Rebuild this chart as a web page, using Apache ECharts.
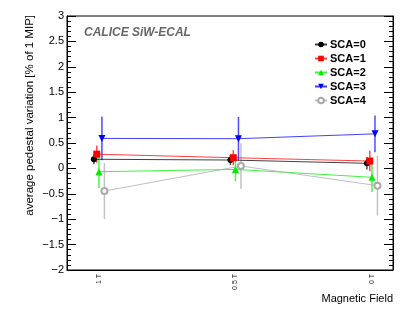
<!DOCTYPE html>
<html>
<head>
<meta charset="utf-8">
<script src="https://cdn.jsdelivr.net/npm/echarts@6/dist/echarts.min.js"></script>
<style>
  html, body { margin: 0; padding: 0; background: #fff; }
  #chart { width: 415px; height: 322px; }
</style>
</head>
<body>
<div id="chart"></div>
<script>
var myChart = echarts.init(document.getElementById("chart"));

// field settings along x (index 0, 1, 2)
var fieldLabels = ['1 T', '0.5 T', '0 T'];
var fieldIndex = [0, 1, 2];

// mean pedestal variation and errors per SCA
var sca0Mean = [0.18, 0.165, 0.10];
var sca0Err  = [0.10, 0.10, 0.12];
var sca1Mean = [0.28, 0.21, 0.145];
var sca1Err  = [0.17, 0.15, 0.20];
var sca2Mean = [-0.065, -0.02, -0.175];
var sca2Err  = [0.32, 0.23, 0.29];
var sca3Mean = [0.59, 0.585, 0.68];
var sca3Err  = [0.43, 0.43, 0.36];
var sca4Mean = [-0.445, 0.047, -0.34];
var sca4Err  = [0.55, 0.45, 0.59];

var scaNames = ['SCA=0', 'SCA=1', 'SCA=2', 'SCA=3', 'SCA=4'];

// small horizontal shift so points don't sit on top of each other
var shift = [-0.037, -0.016, 0, 0.022, 0.04];
var colors = ['#000000', '#ff0000', '#00ee00', '#0000ff', '#aaaaaa'];
var symbols = ['circle', 'rect', 'triangle', 'triangle', 'emptyCircle'];
var symbolRot = [0, 0, 0, 180, 0];
var symbolSizes = [6, 7, 7, 7, 6];

var means = [sca0Mean, sca1Mean, sca2Mean, sca3Mean, sca4Mean];
var errs = [sca0Err, sca1Err, sca2Err, sca3Err, sca4Err];

var series = [];
for (var s = 0; s < 5; s++) {
    var pts = [];
    var bars = [];
    for (var i = 0; i < fieldIndex.length; i++) {
        var x = fieldIndex[i] + shift[s];
        pts.push([x, means[s][i]]);
        bars.push([x, means[s][i] - errs[s][i], means[s][i] + errs[s][i]]);
    }
    series.push({
        name: scaNames[s],
        type: 'line',
        z: 3,
        data: pts,
        symbol: symbols[s],
        symbolRotate: symbolRot[s],
        symbolSize: symbolSizes[s],
        showAllSymbol: true,
        itemStyle: { color: colors[s], borderColor: colors[s], borderWidth: s == 4 ? 1 : 0 },
        lineStyle: { color: colors[s], width: 1, opacity: 0.75 },
        emphasis: { disabled: true },
        animation: false
    });
    series.push({
        name: scaNames[s],
        type: 'custom',
        z: 2,
        data: bars,
        itemStyle: { color: colors[s] },
        renderItem: function (params, api) {
            var lo = api.coord([api.value(0), api.value(1)]);
            var hi = api.coord([api.value(0), api.value(2)]);
            return {
                type: 'line',
                shape: { x1: lo[0], y1: lo[1], x2: hi[0], y2: hi[1] },
                style: { stroke: api.visual('color'), lineWidth: 1.5, opacity: 0.7 }
            };
        },
        animation: false
    });
}

var fmt = function (v) {
    return String(v).replace('-', '\u2212');
};

var option = {
    animation: false,
    textStyle: { fontFamily: 'Liberation Sans' },
    grid: {
        left: 67, right: 22, top: 16, bottom: 52,
        show: true, borderColor: '#000', borderWidth: 1
    },
    legend: {
        orient: 'vertical',
        left: 309,
        top: 34,
        itemWidth: 12,
        itemHeight: 7,
        itemGap: 3,
        data: scaNames,
        textStyle: { fontFamily: 'Liberation Sans', fontWeight: 'bold', fontSize: 11, color: '#000', padding: [0, 0, 0, -2] }
    },
    xAxis: {
        type: 'value',
        min: -0.234,
        max: 2.154,
        splitLine: { show: false },
        axisLine: { onZero: false, lineStyle: { color: '#000' } },
        axisTick: { show: false },
        axisLabel: {
            customValues: fieldIndex,
            rotate: 90,
            fontSize: 7,
            color: '#222',
            margin: 4,
            formatter: function (v) { return fieldLabels[Math.round(v)]; }
        }
    },
    yAxis: [{
        type: 'value',
        min: -2,
        max: 3,
        interval: 0.5,
        splitLine: { show: false },
        axisLine: { show: true, onZero: false, lineStyle: { color: '#000' } },
        axisTick: { show: true, inside: true, length: 9, lineStyle: { color: '#000' } },
        minorTick: { show: true, splitNumber: 5, length: 4, lineStyle: { color: '#000' } },
        axisLabel: { fontSize: 11, color: '#000', margin: 3, formatter: fmt }
    }, {
        type: 'value',
        position: 'right',
        min: -2,
        max: 3,
        interval: 0.5,
        splitLine: { show: false },
        axisLine: { show: true, onZero: false, lineStyle: { color: '#000' } },
        axisTick: { show: true, inside: true, length: 9, lineStyle: { color: '#000' } },
        minorTick: { show: true, splitNumber: 5, length: 4, lineStyle: { color: '#000' } },
        axisLabel: { show: false }
    }],
    graphic: [{
        type: 'text',
        left: 84,
        top: 27,
        style: {
            text: 'CALICE SiW-ECAL',
            font: 'italic bold 12px "Liberation Sans"',
            fill: '#666'
        }
    }, {
        type: 'text',
        x: 30,
        y: 15,
        rotation: Math.PI / 2,
        style: {
            text: 'average pedestal variation [% of 1 MIP]',
            font: '11.5px "Liberation Sans"',
            fill: '#000',
            textAlign: 'right',
            textVerticalAlign: 'middle'
        }
    }, {
        type: 'text',
        x: 393,
        y: 299,
        style: {
            text: 'Magnetic Field',
            font: '11px "Liberation Sans"',
            fill: '#000',
            textAlign: 'right',
            textVerticalAlign: 'middle'
        }
    }],
    series: series
};

myChart.setOption(option);
</script>
</body>
</html>
